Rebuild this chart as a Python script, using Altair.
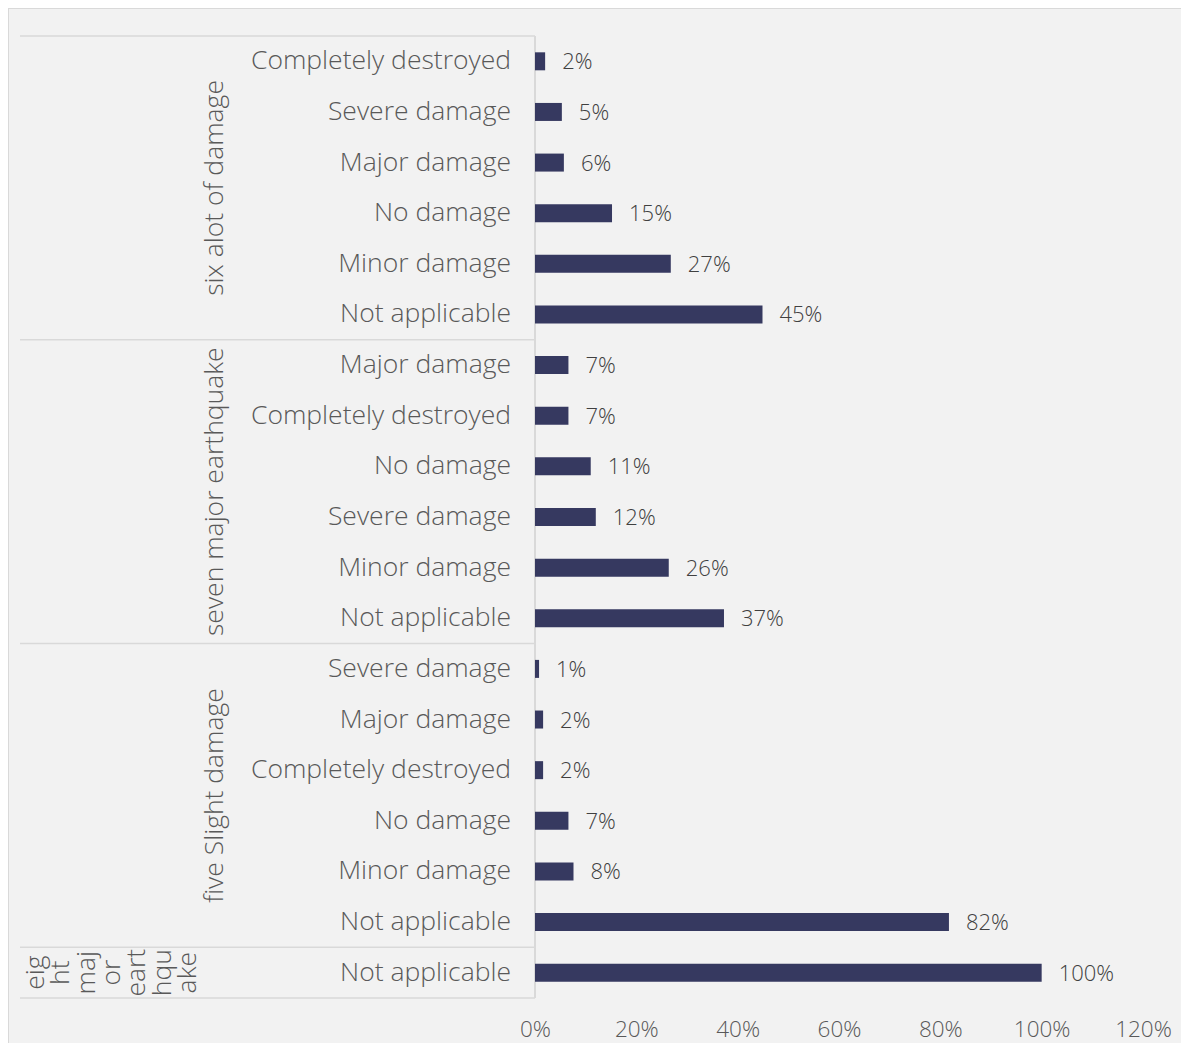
import altair as alt
import pandas as pd

FONT = "Open Sans"
TEXT_COLOR = "#595959"
LABEL_COLOR = "#404040"
BAR_COLOR = "#363960"
LINE_COLOR = "#d9d9d9"
WEIGHT = 300

group_names = ["six alot of damage", "seven major earthquake", "five Slight damage", "eight major earthquake"]
group_lines = [["six alot of damage"], ["seven major earthquake"], ["five Slight damage"],
               ["eig", "ht", "maj", "or", "eart", "hqu", "ake"]]
categories = [
    ["Completely destroyed", "Severe damage", "Major damage", "No damage", "Minor damage", "Not applicable"],
    ["Major damage", "Completely destroyed", "No damage", "Severe damage", "Minor damage", "Not applicable"],
    ["Severe damage", "Major damage", "Completely destroyed", "No damage", "Minor damage", "Not applicable"],
    ["Not applicable"],
]
values = [
    [2.0, 5.3, 5.7, 15.2, 26.8, 44.9],
    [6.6, 6.6, 11.0, 12.0, 26.4, 37.3],
    [0.8, 1.6, 1.6, 6.6, 7.6, 81.7],
    [100.0],
]
x_ticks = [0, 20, 40, 60, 80, 100, 120]

rows = []
groups = []
bounds = [0]
r = 0
for gi, (cats, vals) in enumerate(zip(categories, values)):
    start = r
    for c, v in zip(cats, vals):
        rows.append({"row": r, "yc": r + 0.5, "category": c, "value": v, "group": group_names[gi]})
        r += 1
    groups.append({"group": group_names[gi], "lines": group_lines[gi], "gy": (start + r) / 2, "gi": gi})
    bounds.append(r)

df = pd.DataFrame(rows)
gdf = pd.DataFrame(groups)
bdf = pd.DataFrame({"b": bounds})

yscale = alt.Scale(domain=[0, len(rows)], reverse=True, nice=False, zero=False, padding=0)
xenc = alt.X(
    "value:Q",
    scale=alt.Scale(domain=[0, 120], nice=False, padding=0),
    axis=alt.Axis(values=x_ticks, labelExpr="datum.value + '%'", grid=False, domain=False,
                  ticks=False, tickSize=0, labelPadding=20, labelFontSize=22.5,
                  labelFontWeight=WEIGHT,
                  labelColor=TEXT_COLOR, labelFont=FONT, title=None, labelOverlap=False,
                  labelFlush=False),
)

base = alt.Chart(df)

separators = alt.Chart(bdf).mark_rule(color=LINE_COLOR, strokeWidth=1.5).encode(
    x=alt.value(-515), x2=alt.value(0), y=alt.Y("b:Q", scale=yscale, axis=None)
)
axis_line = alt.Chart(bdf).mark_rule(color=LINE_COLOR, strokeWidth=1.5).encode(
    x=alt.value(0), y=alt.value(0), y2=alt.value(962)
)
border_left = alt.Chart(bdf).mark_rule(color=LINE_COLOR, strokeWidth=1.5).encode(
    x=alt.value(-527), y=alt.value(-28), y2=alt.value(1007)
)
border_top = alt.Chart(bdf).mark_rule(color=LINE_COLOR, strokeWidth=1.5).encode(
    x=alt.value(-527), x2=alt.value(646), y=alt.value(-28)
)

bars = base.mark_bar(size=18, orient="horizontal", color=BAR_COLOR).encode(
    x=xenc, y=alt.Y("yc:Q", scale=yscale, axis=None)
)
cat_text = base.mark_text(align="right", baseline="middle", font=FONT, fontSize=26.5,
                          fontWeight=WEIGHT, color=TEXT_COLOR).encode(
    x=alt.value(-24), y=alt.Y("yc:Q", scale=yscale, axis=None), text="category:N"
)
val_text = base.transform_calculate(
    lbl="format(datum.value, '.0f') + '%'"
).mark_text(align="left", baseline="middle", dx=17, dy=1, font=FONT, fontSize=22,
            fontWeight=WEIGHT, color=LABEL_COLOR).encode(
    x=xenc, y=alt.Y("yc:Q", scale=yscale, axis=None), text="lbl:N"
)

grp_text = alt.Chart(gdf).transform_filter("datum.gi < 3").mark_text(
    angle=270, align="center", baseline="middle", font=FONT, fontSize=26.5,
    fontWeight=WEIGHT, color=TEXT_COLOR
).encode(x=alt.value(-320), y=alt.Y("gy:Q", scale=yscale, axis=None), text="lines")

grp_text2 = alt.Chart(gdf).transform_filter("datum.gi == 3").mark_text(
    angle=270, align="center", baseline="middle", font=FONT, fontSize=26.5,
    fontWeight=WEIGHT, color=TEXT_COLOR, lineHeight=25.3
).encode(x=alt.value(-499), y=alt.Y("gy:Q", scale=yscale, axis=None), text="lines")

chart = alt.layer(
    border_left, border_top, separators, axis_line, bars, cat_text, val_text, grp_text, grp_text2
).properties(
    width=608, height=962, background="#f2f2f2",
    padding={"left": 527, "top": 28, "right": 38, "bottom": 45},
    autosize=alt.AutoSizeParams(type="none"),
).configure_view(strokeWidth=0)

chart.save("out.html", embed_options={"renderer": "svg", "actions": False})
